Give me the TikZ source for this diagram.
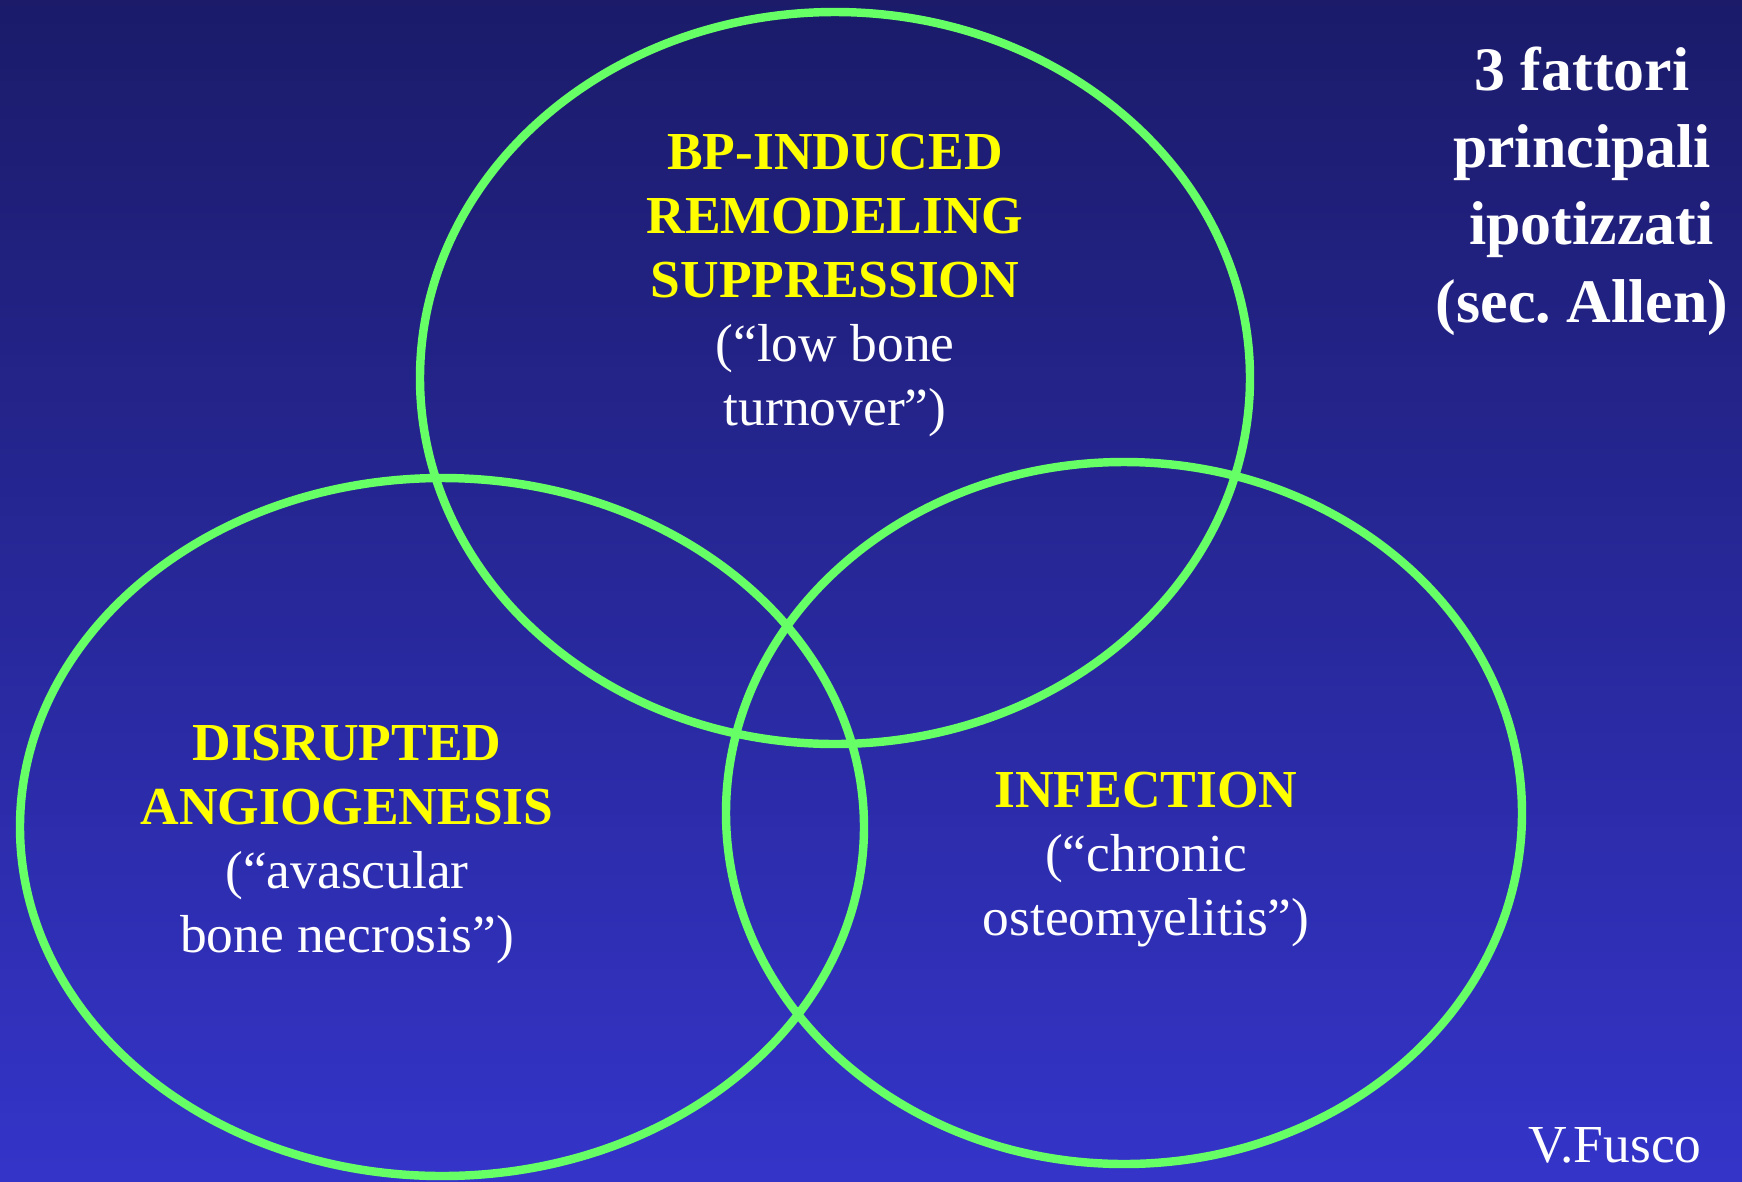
\documentclass[tikz,border=0pt]{standalone}
\usepackage{fontspec}
\setmainfont{Liberation Serif}
\usetikzlibrary{positioning}
\definecolor{bgtop}{HTML}{1B1B6A}
\definecolor{bgbot}{HTML}{3434C9}
\definecolor{ringgreen}{HTML}{66FF66}
\definecolor{labelyellow}{HTML}{FFFF00}
\newcommand{\yel}[1]{\textcolor{labelyellow}{\bfseries #1}}

\begin{document}
\begin{tikzpicture}[x=0.01cm, y=-0.01cm,
    ring/.style={draw=ringgreen, line width=2.4pt},
    txt/.style={align=center, text=white, inner sep=0pt, anchor=base, font=\fontsize{15.2}{18.2}\selectfont},
    corner/.style={align=center, text=white, inner sep=0pt, anchor=base, font=\fontsize{17.6}{21.9}\selectfont\bfseries}
]
% background
\shade[top color=bgtop, bottom color=bgbot] (0,0) rectangle (1742,1181);
\useasboundingbox (0,0) rectangle (1742,1181);

% the three factors
\draw[ring] (835,378) ellipse [x radius=415, y radius=366];
\draw[ring] (442,827) ellipse [x radius=422, y radius=349];
\draw[ring] (1124,813) ellipse [x radius=398, y radius=351];

% labels (base = last line)
\node[txt] (bp) at (835,425) {\yel{BP-INDUCED}\\\yel{REMODELING}\\\yel{SUPPRESSION}\\(``low bone\\turnover'')};
\node[txt] (angio) at (347,952) {\yel{DISRUPTED}\\\yel{ANGIOGENESIS}\\(``avascular\\bone necrosis'')};
\node[txt] (infect) at (1146,935) {\yel{INFECTION}\\(``chronic\\osteomyelitis'')};

\node[corner] (title) at (1582,322) {3 fattori\\principali\\\hspace{0.3em}ipotizzati\\(sec.\ Allen)};
\node[txt, anchor=base west] (sign) at (1528,1162) {V.Fusco};
\end{tikzpicture}
\end{document}
